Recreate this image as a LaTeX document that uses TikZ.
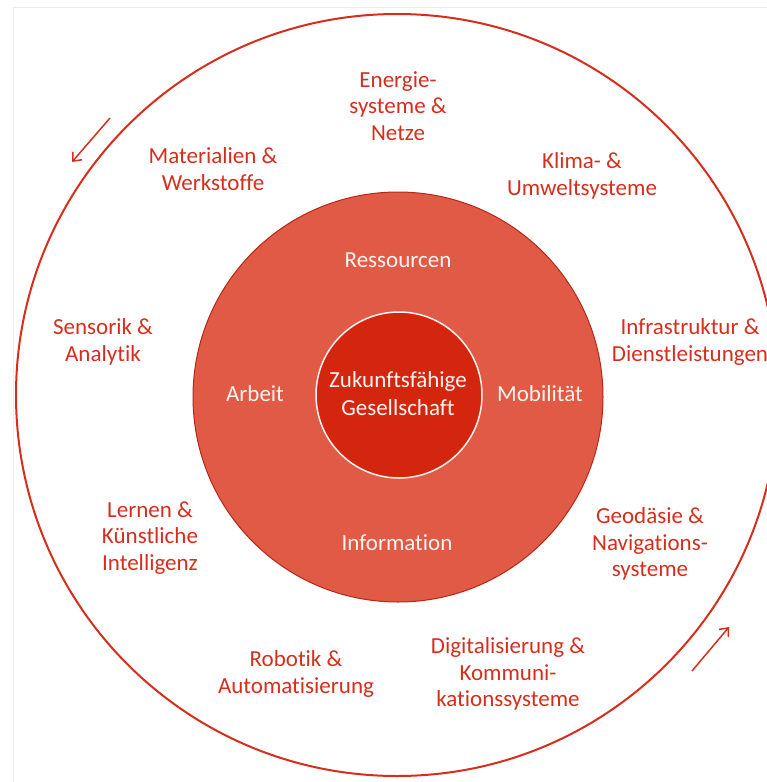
\documentclass[tikz,border=0pt]{standalone}
\usepackage{fontspec}
\setmainfont{Carlito}[RawFeature={-liga}]
\usetikzlibrary{arrows.meta}
\definecolor{ringred}{RGB}{214,46,28}
\definecolor{midred}{RGB}{224,90,70}
\definecolor{corered}{RGB}{212,38,14}
\definecolor{paletext}{RGB}{255,244,240}
\begin{document}
\begin{tikzpicture}[x=1pt,y=-1pt]
	\useasboundingbox (0,0) rectangle (767,782);
	\draw[gray!15] (13,782) -- (13,7) -- (767,7);
	
	\begin{scope}[every node/.style={circle,inner sep=0pt}]
		\node[draw=ringred,line width=2pt,minimum size=762pt] (ring) at (397,395) {};
		\node[draw=ringred!85!black,fill=midred,line width=1pt,minimum size=410pt] (mid) at (398,397) {};
		\node[draw=paletext,fill=corered,line width=1.5pt,minimum size=166pt] (core) at (399,395) {};
	\end{scope}
	
	\begin{scope}[every node/.style={align=center,font=\fontsize{23}{26.5}\selectfont,text=ringred}]
		\node (energie) at (398,106) {Energie-\\systeme \&\\Netze};
		\node (material) at (213,169) {Materialien \&\\Werkstoffe};
		\node (klima) at (582,176) {Klima- \&\\Umweltsysteme};
		\node (sensorik) at (103,342) {Sensorik \&\\Analytik};
		\node (infra) at (690,342) {Infrastruktur \&\\Dienstleistungen};
		\node (lernen) at (150,538) {Lernen \&\\Künstliche\\Intelligenz};
		\node (geo) at (650,544) {Geodäsie \&\\Navigations-\\systeme};
		\node (robotik) at (296,674) {Robotik \&\\Automatisierung};
		\node (digital) at (508,674) {Digitalisierung \&\\Kommuni-\\kationssysteme};
	\end{scope}
	
	\begin{scope}[every node/.style={align=center,font=\fontsize{23}{28}\selectfont,text=paletext}]
		\node (ressourcen) at (398,260) {Ressourcen};
		\node (arbeit) at (255,394) {Arbeit};
		\node (mobil) at (540,394) {Mobilität};
		\node (info) at (397,543) {Information};
		\node (gesellschaft) at (398,394) {Zukunftsfähige\\Gesellschaft};
	\end{scope}
	
	\coordinate (tl start) at (110,118);
	\coordinate (tl end) at (72,162);
	\coordinate (br start) at (692,671);
	\coordinate (br end) at (729,627);
	\begin{scope}[every path/.style={draw=ringred,line width=1.5pt}]
		\path [-{Straight Barb[length=7pt,width=12pt]}] (tl start) -- (tl end);
		\path [-{Straight Barb[length=7pt,width=12pt]}] (br start) -- (br end);
	\end{scope}
\end{tikzpicture}
\end{document}
